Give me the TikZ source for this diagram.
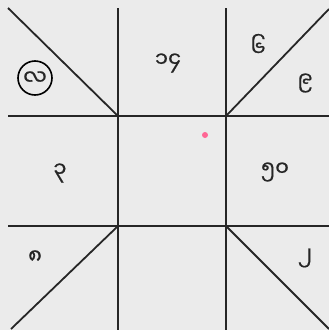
\documentclass[tikz,border=0pt]{standalone}
\usepackage{fontspec}
\newfontfamily\mya[Script=Myanmar,FakeBold=0.7]{Noto Sans Myanmar UI}
\definecolor{bg}{HTML}{EBEBEB}
\tikzset{
  gridline/.style={line width=1.8pt, black!85},
  num/.style={font=\mya\fontsize{21}{21}\selectfont, text=black!85, inner sep=0pt},
}
\begin{document}
\begin{tikzpicture}[x=1pt,y=-1pt]
\fill[bg] (0,0) rectangle (329,330);
\useasboundingbox (0,0) rectangle (329,330);
\coordinate (tl) at (118,116);
\coordinate (tr) at (226,116);
\coordinate (bl) at (118,226);
\coordinate (br) at (226,226);
\coordinate (h1a) at (8,116);  \coordinate (h1b) at (329,116);
\coordinate (h2a) at (8,226);  \coordinate (h2b) at (329,226);
\coordinate (v1a) at (118,8);  \coordinate (v1b) at (118,330);
\coordinate (v2a) at (226,8);  \coordinate (v2b) at (226,330);
\coordinate (dtl) at (8,8);
\coordinate (dtr) at (329,9);
\coordinate (dbl) at (11,329);
\coordinate (dbr) at (329,329);
\draw[gridline] (h1a) -- (h1b);
\draw[gridline] (h2a) -- (h2b);
\draw[gridline] (v1a) -- (v1b);
\draw[gridline] (v2a) -- (v2b);
\draw[gridline] (dtl) -- (tl);
\draw[gridline] (dtr) -- (tr);
\draw[gridline] (dbl) -- (bl);
\draw[gridline] (dbr) -- (br);
\node[num, circle, draw, line width=1.6pt, minimum size=34pt] (la) at (35,78) {လ};
\node[num] (n14) at (168,63) {၁၄};
\node[num] (n6) at (258,45) {၆};
\node[num] (n9) at (305,83) {၉};
\node[num] (n3) at (60,173) {၃};
\node[num] (n50) at (275,172) {၅၀};
\node[num] (n8) at (35,257) {၈};
\node[num] (n2) at (305,258) {၂};
\fill[red!70!magenta!60] (205,135) circle (3pt);
\end{tikzpicture}
\end{document}
